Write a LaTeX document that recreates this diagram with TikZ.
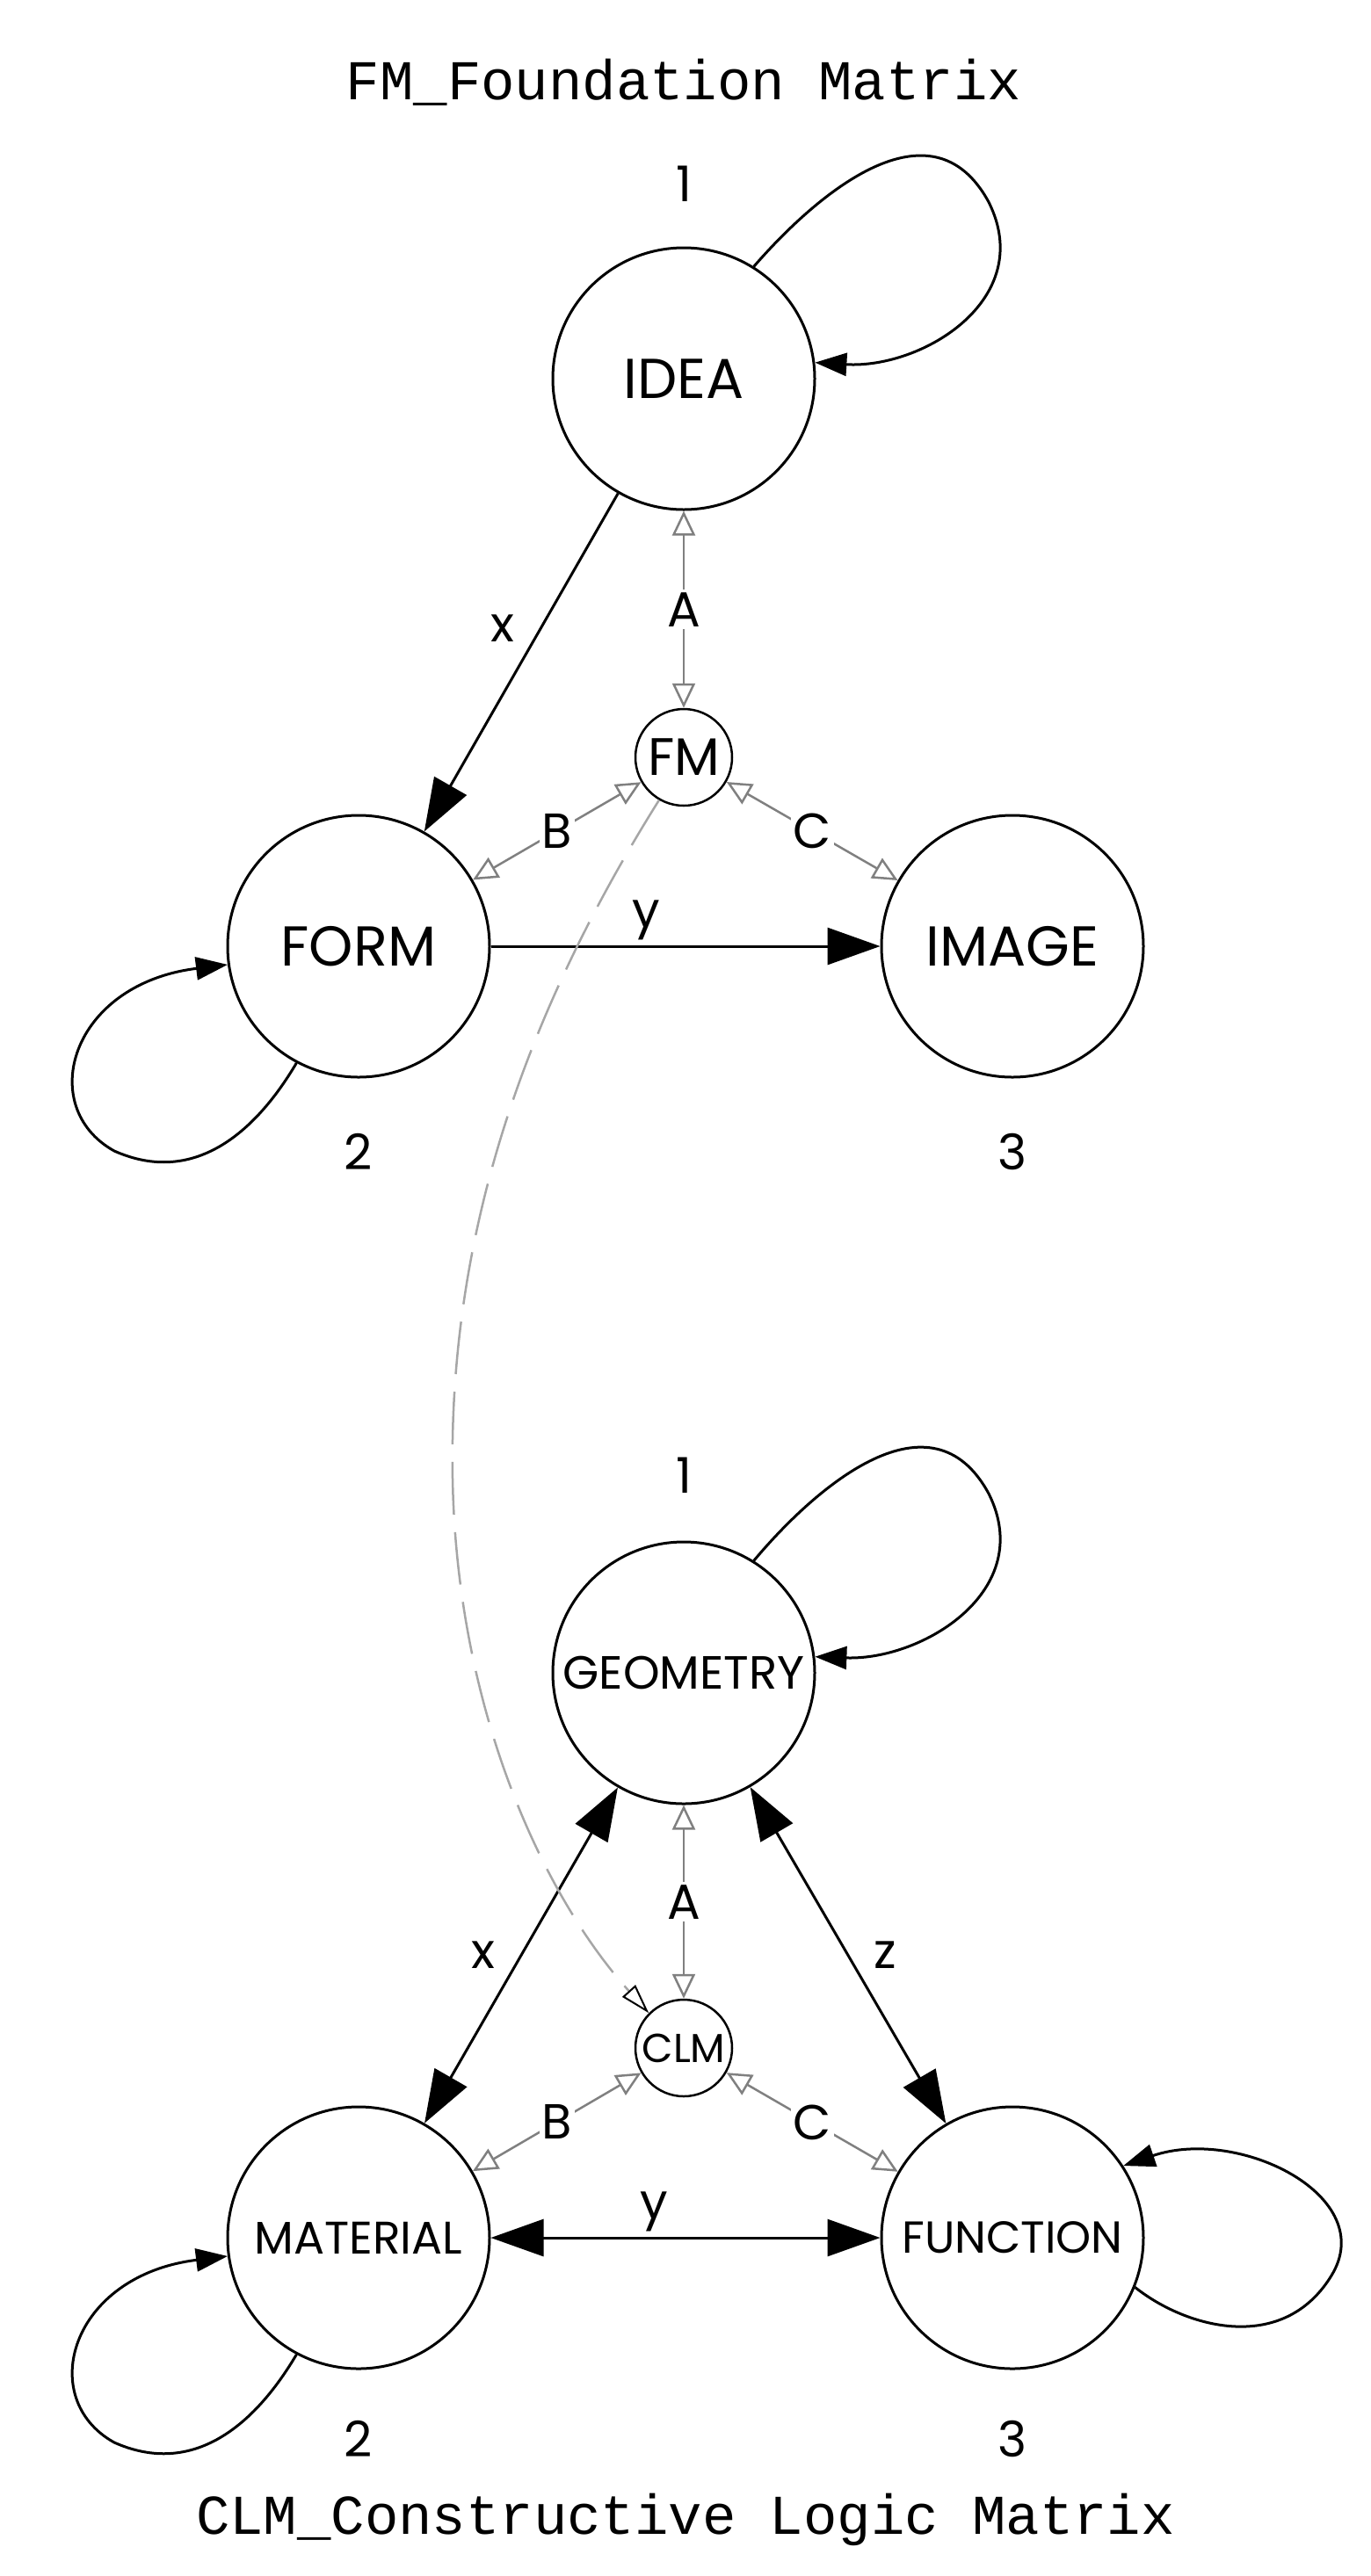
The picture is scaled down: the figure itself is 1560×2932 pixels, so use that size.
\documentclass[tikz,border=0pt]{standalone}
\usepackage{fontspec}
\setmainfont{Poppins}
\newfontfamily\monof{Liberation Mono}
\usetikzlibrary{arrows.meta}
\begin{document}
\begin{tikzpicture}[x=1pt,y=-1pt,
  big/.style={circle,draw,line width=3pt,minimum size=298pt,inner sep=0pt,font=\fontsize{64}{64}\selectfont},
  small/.style={circle,draw,line width=2.5pt,minimum size=110pt,inner sep=0pt,font=\fontsize{60}{60}\selectfont},
  lab/.style={font=\fontsize{56}{56}\selectfont},
  ttl/.style={font=\monof\fontsize{64}{64}\selectfont},
  edge/.style={line width=3pt,draw},
  big tip/.style={-{Triangle[length=60pt,width=42pt]}},
  both tip/.style={{Triangle[length=60pt,width=42pt]}-{Triangle[length=60pt,width=42pt]}},
  loop tip/.style={-{Triangle[length=36pt,width=26pt]}},
  gr/.style={draw=gray,line width=2.5pt,{Triangle[open,length=28pt,width=26pt]}-{Triangle[open,length=28pt,width=26pt]}},
]
\useasboundingbox (0,0) rectangle (1560,2932);
\node[ttl] (t1) at (778,94) {FM\_Foundation Matrix};
\node[ttl] (t2) at (780,2868) {CLM\_Constructive Logic Matrix};
% top
\node[big] (idea) at (778,431) {IDEA};
\node[big] (form) at (408,1077) {FORM};
\node[big] (image) at (1152,1077) {IMAGE};
\node[small] (fm) at (778,862) {FM};
\node[lab] (n1) at (778,209) {1};
\node[lab] (n2) at (408,1311) {2};
\node[lab] (n3) at (1152,1311) {3};
\draw[edge,big tip] (idea) -- node[lab,pos=0.4,left=25pt] {x} (form);
\draw[edge,big tip] (form) -- node[lab,above=2pt,pos=0.4] {y} (image);
\draw[gr] (idea) -- node[lab,fill=white,inner sep=3pt] {A} (fm);
\draw[gr] (form) -- node[lab,fill=white,inner sep=3pt] {B} (fm);
\draw[gr] (image) -- node[lab,fill=white,inner sep=3pt] {C} (fm);
\draw[edge,loop tip] (idea.58) .. controls (930,220) and (1060,110) .. (1125,230) .. controls (1180,340) and (1050,420) .. (idea.7);
\draw[edge,loop tip] (form.242) .. controls (290,1290) and (220,1350) .. (130,1310) .. controls (40,1260) and (80,1120) .. (form.188);
% bottom
\node[big,font=\fontsize{53}{53}\selectfont] (geo) at (778,1904) {GEOMETRY};
\node[big,font=\fontsize{52}{52}\selectfont] (mat) at (408,2547) {MATERIAL};
\node[big,font=\fontsize{51}{51}\selectfont] (fun) at (1152,2547) {FUNCTION};
\node[small,font=\fontsize{46}{46}\selectfont] (clm) at (778,2331) {CLM};
\node[lab] (m1) at (778,1679) {1};
\node[lab] (m2) at (408,2776) {2};
\node[lab] (m3) at (1152,2776) {3};
\draw[edge,both tip] (geo) -- node[lab,pos=0.5,left=25pt] {x} (mat);
\draw[edge,both tip] (geo) -- node[lab,pos=0.5,right=25pt] {z} (fun);
\draw[edge,both tip] (mat) -- node[lab,above=2pt,pos=0.42] {y} (fun);
\draw[gr] (geo) -- node[lab,fill=white,inner sep=3pt] {A} (clm);
\draw[gr] (mat) -- node[lab,fill=white,inner sep=3pt] {B} (clm);
\draw[gr] (fun) -- node[lab,fill=white,inner sep=3pt] {C} (clm);
\draw[edge,loop tip] (geo.58) .. controls (930,1690) and (1060,1580) .. (1125,1700) .. controls (1180,1810) and (1050,1890) .. (geo.7);
\draw[edge,loop tip] (mat.242) .. controls (290,2760) and (220,2820) .. (130,2780) .. controls (40,2730) and (80,2590) .. (mat.188);
\draw[edge,loop tip] (fun.338) .. controls (1350,2650) and (1460,2680) .. (1515,2590) .. controls (1570,2500) and (1410,2420) .. (fun.33);
% dashed link
\draw[draw=gray!70,line width=2.5pt,dash pattern=on 60pt off 20pt,-{Triangle[open,length=34pt,width=20pt,color=black,line width=2pt]}]
  (fm.240) .. controls (600,1150) and (510,1400) .. (515,1683) .. controls (520,1950) and (620,2160) .. (clm.135);
\end{tikzpicture}
\end{document}
